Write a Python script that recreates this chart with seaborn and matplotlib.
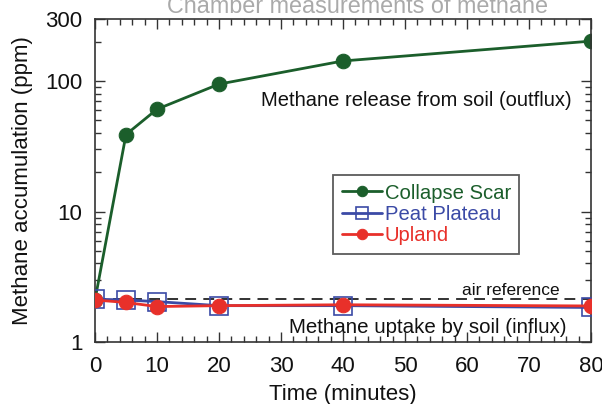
import matplotlib
matplotlib.use("Agg")
import matplotlib.pyplot as plt
import seaborn as sns
import pandas as pd
import numpy as np
from matplotlib.ticker import MultipleLocator, LogLocator, NullFormatter, FixedLocator

sns.set_theme(style="ticks")
plt.rcParams['font.family'] = ['Liberation Sans', 'DejaVu Sans']

time = [0, 5, 10, 20, 40, 80]
collapse_scar = [2.1, 39, 61, 95, 143, 203]
peat_plateau = [2.13, 2.10, 2.04, 1.90, 1.90, 1.84]
upland = [2.10, 2.01, 1.87, 1.90, 1.93, 1.89]
air_reference = 2.13
series_names = ["Collapse Scar", "Peat Plateau", "Upland"]
colors = ["#1b5e2b", "#3b4aa6", "#e8302a"]
markers = ["o", "s", "o"]
yticks = [1, 10, 100, 300]
xticks = [0, 10, 20, 30, 40, 50, 60, 70, 80]

df = pd.DataFrame({
    "time": time * 3,
    "value": collapse_scar + peat_plateau + upland,
    "site": [series_names[0]] * 6 + [series_names[1]] * 6 + [series_names[2]] * 6,
})

fig = plt.figure(figsize=(6.02, 4.04), dpi=100)
ax = fig.add_axes([95/602, 1 - 342/404, (591-95)/602, (342-19)/404])

for name, c, m in zip(series_names, colors, markers):
    sub = df[df.site == name]
    if m == "s":
        sns.lineplot(data=sub, x="time", y="value", ax=ax, color=c, lw=2,
                     marker="s", markersize=13, markerfacecolor="none",
                     markeredgecolor=c, markeredgewidth=1.2, label=name, zorder=3)
    else:
        sns.lineplot(data=sub, x="time", y="value", ax=ax, color=c, lw=2,
                     marker="o", markersize=10.5, markerfacecolor=c,
                     markeredgecolor=c, label=name, zorder=4 if name == "Upland" else 2)

ax.axhline(air_reference, color="#222222", ls=(0, (6, 4)), lw=1.3, zorder=1)

ax.set_yscale("log")
ax.set_ylim(1, 300)
ax.set_xlim(0, 80)
ax.yaxis.set_major_locator(FixedLocator(yticks))
ax.set_yticklabels([str(t) for t in yticks])
ax.yaxis.set_minor_locator(LogLocator(base=10, subs=np.arange(2, 10)))
ax.yaxis.set_minor_formatter(NullFormatter())
ax.xaxis.set_major_locator(FixedLocator(xticks))
ax.set_xticklabels([str(t) for t in xticks])
ax.xaxis.set_minor_locator(MultipleLocator(2))

ax.tick_params(which="both", direction="in", top=True, right=True, colors="#333333",
               labelcolor="#111111", labelsize=16)
ax.tick_params(which="major", length=7, width=1)
ax.tick_params(which="minor", length=4, width=1)
ax.tick_params(axis="y", which="major", pad=9)
ax.tick_params(axis="x", which="major", pad=10)
for s in ax.spines.values():
    s.set_color("#333333")
    s.set_linewidth(1.2)

ax.set_xlabel("Time (minutes)", fontsize=16, color="#111111", labelpad=5)
ax.set_ylabel("Methane accumulation (ppm)", fontsize=16, color="#111111", labelpad=9)

ax.text(0.647, 0.749, "Methane release from soil (outflux)", transform=ax.transAxes,
        ha="center", va="center", fontsize=14.5, color="#111111")
ax.text(0.671, 0.046, "Methane uptake by soil (influx)", transform=ax.transAxes,
        ha="center", va="center", fontsize=14.8, color="#111111")
ax.text(0.839, 0.158, "air reference", transform=ax.transAxes,
        ha="center", va="center", fontsize=12.5, color="#111111")

leg = ax.legend(loc="upper left", bbox_to_anchor=(0.48, 0.517), frameon=True,
                fancybox=False, fontsize=14.6, handlelength=2.0, handletextpad=0.12,
                borderpad=0.42, labelspacing=0.12, borderaxespad=0)
leg.get_frame().set_edgecolor("#333333")
leg.get_frame().set_linewidth(1.3)
for t, c in zip(leg.get_texts(), colors):
    t.set_color(c)
for h, m in zip(leg.legend_handles, markers):
    h.set_markersize(9 if m == "s" else 7.5)

fig.text(357/602, 1 - 13/404, "Chamber measurements of methane", ha="center",
         va="baseline", fontsize=16.8, color="#aaaaaa")

fig.savefig("out.png", dpi=100)
